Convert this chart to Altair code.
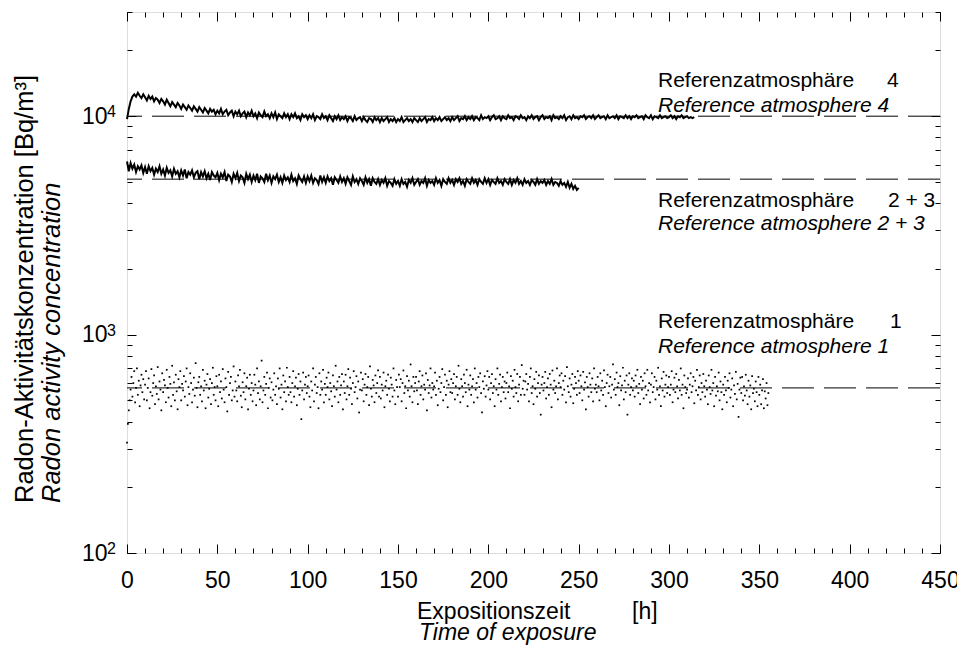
import altair as alt
import pandas as pd

# ---------------- data ----------------
# Reference atmosphere 4 (hourly readings, Bq/m^3)
ref4_values = [
    9700, 10800, 11700, 12300, 12600, 12300, 12800, 12400, 12100, 12600,
    12200, 11800, 12400, 12000, 12300, 11700, 12100, 11900, 11500, 12000,
    11700, 11300, 11900, 11500, 11100, 11600, 11300, 11000, 11500, 11200,
    10800, 11300, 11000, 10700, 11200, 10900, 10600, 11100, 10800, 10500,
    11000, 10700, 10400, 10900, 10600, 10300, 10800, 10500, 10700, 10200,
    10600, 10300, 10800, 10200, 10500, 10700, 10100, 10400, 10600, 10000,
    10500, 10200, 10600, 10000, 10300, 10500, 9900, 10400, 10100, 10600,
    10000, 10300, 9800, 10400, 10100, 9900, 10500, 10000, 10200, 9800,
    10300, 9900, 10400, 9700, 10200, 10000, 9800, 10300, 9900, 10200,
    9700, 10200, 9900, 10300, 9800, 10000, 9600, 10200, 9900, 10100,
    9700, 10100, 9800, 10200, 9600, 10000, 9900, 9700, 10200, 9800,
    10000, 9600, 10100, 9800, 9500, 10000, 9700, 10100, 9600, 9900,
    9700, 10000, 9500, 9900, 9800, 9500, 10000, 9600, 9800, 9900,
    9500, 9900, 9600, 9400, 9800, 9700, 9400, 9900, 9600, 9800,
    9400, 9800, 9500, 9700, 9900, 9400, 9700, 9500, 9800, 9400,
    9700, 9500, 9900, 9400, 9600, 9800, 9500, 9700, 9400, 9800,
    9600, 9400, 9800, 9500, 9700, 9900, 9400, 9700, 9600, 9900,
    9500, 9800, 9600, 9900, 9500, 9700, 9900, 9600, 9800, 9500,
    9900, 9600, 9800, 10000, 9500, 9800, 9700, 10000, 9600, 9900,
    9700, 10000, 9600, 9900, 9800, 9600, 10100, 9700, 9900, 9800,
    10000, 9600, 9900, 10100, 9700, 9800, 10000, 9600, 10000, 9800,
    9700, 10100, 9800, 9900, 9600, 10000, 9900, 9700, 10100, 9800,
    9900, 9600, 10000, 9800, 10100, 9700, 9900, 10000, 9600, 9900,
    10100, 9700, 9900, 9800, 10000, 9600, 10100, 9800, 9900, 9700,
    10000, 9800, 10100, 9600, 9900, 10000, 9700, 10100, 9800, 9900,
    9700, 10000, 9900, 10100, 9700, 9900, 10000, 9800, 10100, 9700,
    9900, 10100, 9800, 9900, 10000, 9700, 10100, 9800, 9900, 10000,
    9800, 10100, 9700, 10000, 9900, 9800, 10100, 9800, 10000, 9700,
    10000, 9900, 10100, 9800, 9900, 10000, 9700, 10100, 9900, 9800,
    10100, 9700, 10000, 9900, 9800, 10100, 9800, 9900, 10000, 9800,
    9900, 10100, 9800, 10000, 9700, 10000, 9900, 10100, 9800, 9900,
    10000, 9800, 9900, 9800, 9900,
]

# Reference atmosphere 2 + 3 (hourly readings, Bq/m^3)
ref23_values = [
    6200, 5600, 6100, 5750, 6000, 5550, 5900, 5700, 5950, 5500,
    5850, 5450, 5900, 5600, 5800, 5400, 5750, 5550, 5900, 5450,
    5700, 5350, 5800, 5500, 5650, 5300, 5750, 5450, 5600, 5250,
    5650, 5350, 5700, 5200, 5550, 5400, 5650, 5250, 5500, 5600,
    5150, 5550, 5300, 5600, 5200, 5450, 5100, 5550, 5350, 5250,
    5500, 5100, 5450, 5250, 5550, 5050, 5400, 5300, 5000, 5450,
    5200, 5500, 5050, 5350, 5250, 4950, 5450, 5150, 5400, 5000,
    5350, 5100, 5450, 4950, 5300, 5200, 5000, 5450, 5100, 5350,
    4950, 5300, 5150, 5400, 5000, 5250, 4950, 5350, 5100, 5250,
    5000, 5400, 5050, 5200, 4900, 5350, 5150, 5000, 5300, 4950,
    5300, 5050, 5350, 4950, 5200, 5100, 4900, 5350, 5000, 5250,
    4950, 5300, 5050, 5200, 4850, 5250, 5100, 4950, 5300, 5000,
    5200, 4900, 5250, 5050, 4850, 5300, 5000, 5150, 4900, 5200,
    5050, 4850, 5250, 4950, 5150, 4800, 5200, 5000, 4900, 5150,
    4850, 5100, 4950, 5200, 4800, 5050, 4950, 4800, 5150, 4900,
    5050, 4800, 5150, 4900, 5000, 4750, 5100, 4950, 5200, 4850,
    5000, 5150, 4850, 5050, 4950, 5200, 4800, 5100, 4950, 5050,
    4850, 5200, 4950, 5100, 4800, 5150, 5000, 4900, 5200, 4950,
    5100, 4850, 5150, 5000, 5200, 4900, 5050, 4800, 5150, 5000,
    4900, 5200, 4950, 5100, 4850, 5150, 5000, 4900, 5200, 4950,
    5150, 4850, 5100, 5000, 4900, 5200, 4950, 5050, 4850, 5150,
    5000, 4900, 5150, 4850, 5100, 4950, 5200, 4900, 5050, 4850,
    5150, 4950, 5050, 4850, 5100, 5000, 4850, 5150, 4900, 5050,
    4950, 5100, 4850, 5050, 4900, 5150, 4850, 5000, 4950, 4800,
    5050, 4850, 4950, 4750, 5000, 4700, 4900, 4650, 4800, 4600,
    4700,
]

# Reference atmosphere 1 (half-hourly readings, Bq/m^3)
ref1_values = [
    320, 390, 450, 500, 560, 640, 520, 600, 680, 490, 570, 700, 530, 615, 470, 585, 655, 545, 625, 505,
    590, 680, 500, 570, 630, 460, 545, 695, 525, 600, 650, 480, 580, 535, 710, 505, 610, 560, 450, 665,
    545, 620, 585, 490, 690, 570, 515, 640, 595, 470, 720, 530, 605, 500, 655, 550, 455, 625, 575, 680,
    500, 595, 555, 645, 520, 610, 700, 475, 575, 535, 665, 600, 490, 560, 635, 525, 740, 570, 465, 605,
    640, 530, 580, 495, 690, 555, 615, 460, 590, 660, 515, 565, 625, 480, 600, 705, 530, 575, 500, 645,
    580, 470, 655, 545, 610, 510, 695, 560, 490, 630, 575, 445, 675, 530, 600, 640, 500, 555, 715, 520,
    610, 555, 495, 650, 580, 690, 525, 465, 605, 545, 665, 505, 580, 635, 455, 565, 655, 530, 600, 495,
    555, 655, 590, 475, 700, 540, 610, 505, 580, 760, 490, 555, 640, 530, 595, 670, 460, 570, 630, 515,
    605, 500, 560, 665, 530, 580, 480, 630, 565, 700, 515, 590, 455, 650, 545, 610, 495, 705, 575, 530,
    640, 545, 490, 600, 680, 520, 580, 635, 475, 565, 660, 530, 610, 410, 555, 670, 505, 590, 640, 540,
    580, 650, 520, 465, 610, 555, 700, 495, 590, 640, 540, 575, 460, 665, 530, 610, 560, 690, 490, 595,
    530, 635, 575, 670, 505, 600, 550, 470, 650, 580, 520, 720, 560, 610, 490, 640, 530, 585, 660, 455,
    610, 540, 655, 505, 580, 695, 530, 635, 565, 480, 600, 680, 545, 575, 645, 510, 610, 440, 560, 670,
    555, 625, 495, 590, 660, 530, 575, 640, 475, 715, 565, 520, 620, 585, 490, 650, 540, 600, 685, 520,
    640, 510, 590, 555, 670, 465, 580, 615, 530, 655, 565, 495, 635, 590, 520, 700, 555, 480, 620, 575,
    520, 655, 575, 625, 495, 600, 685, 540, 580, 460, 645, 555, 615, 520, 730, 580, 490, 640, 550, 600,
    640, 555, 480, 610, 680, 530, 580, 650, 505, 590, 560, 665, 450, 620, 540, 585, 700, 515, 600, 560,
    580, 670, 530, 615, 475, 565, 640, 545, 600, 695, 500, 575, 655, 530, 615, 465, 590, 680, 545, 625,
    540, 600, 660, 505, 580, 640, 530, 720, 565, 490, 625, 580, 520, 655, 600, 545, 690, 470, 590, 560,
    650, 530, 580, 625, 490, 700, 560, 600, 515, 640, 575, 665, 540, 440, 610, 565, 645, 520, 585, 680,
    560, 640, 505, 600, 660, 540, 580, 470, 625, 560, 700, 530, 595, 655, 495, 575, 640, 545, 610, 510,
    600, 670, 545, 580, 460, 645, 565, 615, 520, 690, 575, 540, 660, 495, 590, 640, 530, 725, 565, 615,
    530, 610, 660, 560, 595, 495, 640, 700, 540, 580, 480, 625, 565, 675, 520, 600, 650, 540, 430, 590,
    640, 555, 600, 675, 510, 575, 630, 530, 660, 590, 465, 685, 560, 615, 540, 580, 700, 505, 600, 650,
    575, 665, 530, 615, 560, 645, 490, 710, 580, 545, 630, 520, 590, 660, 485, 565, 640, 600, 530, 680,
    615, 540, 650, 580, 500, 675, 560, 605, 455, 640, 575, 520, 665, 590, 545, 630, 495, 700, 565, 590,
    545, 640, 580, 500, 665, 555, 615, 530, 685, 575, 470, 600, 655, 540, 580, 640, 515, 590, 730, 560,
    625, 530, 670, 575, 600, 475, 645, 555, 585, 705, 505, 615, 545, 650, 430, 590, 665, 530, 575, 630,
    555, 615, 520, 650, 580, 690, 540, 595, 480, 640, 560, 615, 510, 665, 580, 530, 690, 555, 600, 490,
    590, 665, 545, 575, 640, 505, 615, 560, 705, 530, 580, 470, 630, 555, 675, 520, 590, 650, 540, 575,
    640, 530, 590, 680, 490, 560, 635, 545, 660, 580, 510, 620, 555, 700, 530, 590, 460, 650, 575, 540,
    560, 630, 515, 590, 665, 545, 580, 640, 485, 615, 555, 690, 530, 575, 650, 505, 600, 545, 660, 580,
    520, 615, 560, 480, 650, 575, 535, 690, 555, 600, 470, 640, 525, 580, 550, 670, 500, 610, 545, 455,
    590, 530, 640, 555, 490, 615, 570, 665, 515, 560, 630, 470, 585, 535, 675, 505, 595, 420, 560, 635,
    540, 640, 500, 580, 525, 655, 555, 480, 615, 520, 585, 455, 645, 540, 565, 495, 610, 545, 470, 640,
    530, 590, 480, 555, 625, 460, 550, 510, 600, 475, 540,
]

# nominal (target) levels drawn as dashed lines
target_values = [10000, 5150, 570]

# tick values and tick-label exponents
x_major = [0, 50, 100, 150, 200, 250, 300, 350, 400, 450]
x_minor = list(range(0, 451, 10))
y_major = [100, 1000, 10000]
y_exponents = ["2", "3", "4"]
y_minor = [200, 300, 400, 500, 600, 700, 800, 900,
           2000, 3000, 4000, 5000, 6000, 7000, 8000, 9000,
           20000, 30000]

df4 = pd.DataFrame({"t": list(range(len(ref4_values))), "v": ref4_values})
df23 = pd.DataFrame({"t": list(range(len(ref23_values))), "v": ref23_values})
df1 = pd.DataFrame({"t": [i * 0.5 for i in range(len(ref1_values))], "v": ref1_values})
dft = pd.DataFrame({"v": target_values})
dfexp = pd.DataFrame({"v": y_major, "e": y_exponents})
dummy = pd.DataFrame({"t": [0], "v": [1000]})

# ---------------- layout ----------------
W, H = 813, 541
FONT = "Liberation Sans"

xs = alt.Scale(domain=[0, 450], nice=False, zero=False)
ys = alt.Scale(type="log", domain=[100, 30000], nice=False)

common = dict(title=None, domain=False, grid=False, labelFlush=False)


def tick_axis(orient, values, size, offset):
    return alt.Axis(orient=orient, values=values, labels=False, ticks=True,
                    tickSize=size, tickColor="black", tickWidth=1,
                    offset=offset, **common)


x_label_axis = alt.Axis(orient="bottom", values=x_major, ticks=False,
                        labelFont=FONT, labelFontSize=23, labelColor="black",
                        labelPadding=16, labelOverlap=False, **common)
y_label_axis = alt.Axis(orient="left", values=y_major, ticks=False,
                        labelFont=FONT, labelFontSize=23, labelColor="black",
                        labelPadding=20, labelOverlap=False,
                        labelExpr="'10'", **common)


def carrier(xaxis, yaxis):
    return alt.Chart(dummy).mark_point(opacity=0).encode(
        x=alt.X("t:Q", scale=xs, axis=xaxis),
        y=alt.Y("v:Q", scale=ys, axis=yaxis),
    )


axes_layers = [
    carrier(x_label_axis, y_label_axis),
    carrier(tick_axis("top", x_major, 9, -H), tick_axis("right", y_major, 9, -W)),
    carrier(tick_axis("top", x_minor, 5, -H), tick_axis("right", y_minor, 5, -W)),
    carrier(tick_axis("bottom", x_major, 9, -H), tick_axis("left", y_major, 9, -W)),
    carrier(tick_axis("bottom", x_minor, 5, -H), tick_axis("left", y_minor, 5, -W)),
]

exponents = alt.Chart(dfexp).mark_text(
    font=FONT, fontSize=16, align="left", baseline="alphabetic", color="black", dy=1
).encode(
    y=alt.Y("v:Q", scale=ys, axis=None),
    x=alt.value(-20),
    text="e:N",
)

targets = alt.Chart(dft).mark_rule(color="black", strokeWidth=1, strokeDash=[32, 10]).encode(
    y=alt.Y("v:Q", scale=ys, axis=None)
)

scatter1 = alt.Chart(df1).mark_square(size=3, color="black", opacity=1).encode(
    x=alt.X("t:Q", scale=xs, axis=None),
    y=alt.Y("v:Q", scale=ys, axis=None),
)

line23 = alt.Chart(df23).mark_line(color="black", strokeWidth=2).encode(
    x=alt.X("t:Q", scale=xs, axis=None),
    y=alt.Y("v:Q", scale=ys, axis=None),
)

line4 = alt.Chart(df4).mark_line(color="black", strokeWidth=2).encode(
    x=alt.X("t:Q", scale=xs, axis=None),
    y=alt.Y("v:Q", scale=ys, axis=None),
)


def label(s, x, y, size=21, italic=False, angle=None, align="left", baseline="alphabetic"):
    kw = dict(text=s, font=FONT, fontSize=size, align=align, baseline=baseline, color="black")
    if italic:
        kw["fontStyle"] = "italic"
    if angle is not None:
        kw["angle"] = angle
    return alt.Chart(dummy).mark_text(**kw).encode(x=alt.value(x), y=alt.value(y))


texts = [
    label("Referenzatmosphäre", 531, 75),
    label("4", 760, 75),
    label("Reference atmosphere 4", 531, 100, italic=True),
    label("Referenzatmosphäre", 531, 195),
    label("2 + 3", 761, 195),
    label("Reference atmosphere 2 + 3", 531, 218, italic=True),
    label("Referenzatmosphäre", 531, 316),
    label("1", 763, 316),
    label("Reference atmosphere 1", 531, 341, italic=True),
    # x-axis title
    label("Expositionszeit", 290, 607, size=23),
    label("[h]", 505, 607, size=23),
    label("Time of exposure", 292, 628, size=23, italic=True),
    # y-axis title
    label("Radon-Aktivitätskonzentration [Bq/m³]", -94, 491, size=25.5, angle=270),
    label("Radon activity concentration", -67, 491, size=25.5, angle=270, italic=True),
]

chart = alt.layer(
    targets, scatter1, line23, line4, *axes_layers, exponents, *texts
).resolve_axis(
    x="independent", y="independent"
).properties(
    width=W, height=H,
    autosize=alt.AutoSizeParams(type="none"),
    padding={"left": 119, "top": 4, "right": 17, "bottom": 93},
).configure_view(
    stroke="black", strokeWidth=1
).configure(background="white")

chart.save("out.html", embed_options={"renderer": "svg", "actions": False})
